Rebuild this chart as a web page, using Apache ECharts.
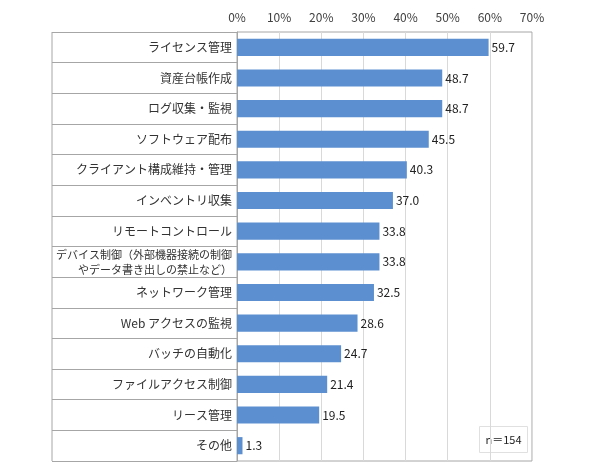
<!DOCTYPE html>
<html>
<head>
<meta charset="utf-8">
<script src="https://cdn.jsdelivr.net/npm/echarts@6/dist/echarts.min.js"></script>
<style>
  html, body { margin: 0; padding: 0; background: #fff; }
  #main { width: 590px; height: 472px; }
</style>
</head>
<body>
<div id="main"></div>
<script>
// 項目（上から順）
const categories = [
  'ライセンス管理',
  '資産台帳作成',
  'ログ収集・監視',
  'ソフトウェア配布',
  'クライアント構成維持・管理',
  'インベントリ収集',
  'リモートコントロール',
  'デバイス制御（外部機器接続の制御\nやデータ書き出しの禁止など）',
  'ネットワーク管理',
  'Web アクセスの監視',
  'バッチの自動化',
  'ファイルアクセス制御',
  'リース管理',
  'その他'
]
// 割合（%）
const values = [59.7, 48.7, 48.7, 45.5, 40.3, 37.0, 33.8, 33.8, 32.5, 28.6, 24.7, 21.4, 19.5, 1.3]
const nLabel = 'n＝154'

const myChart = echarts.init(document.getElementById('main'))
const font = '"Noto Sans CJK JP", "Noto Sans", sans-serif'

myChart.setOption({
  animation: false,
  grid: {
    left: 237,
    right: 58,
    top: 32,
    bottom: 11,
    show: true,
    borderColor: '#a6a6a6',
    borderWidth: 1
  },
  xAxis: {
    type: 'value',
    position: 'top',
    min: 0,
    max: 70,
    interval: 10,
    axisLine: { show: false },
    axisTick: { show: false },
    axisLabel: {
      formatter: '{value}%',
      color: '#404040',
      fontSize: 12,
      fontFamily: font,
      margin: 9
    },
    splitLine: { lineStyle: { color: '#d9d9d9' } }
  },
  yAxis: {
    type: 'category',
    inverse: true,
    data: categories,
    axisLine: { show: true, lineStyle: { color: '#a6a6a6' } },
    axisTick: {
      show: true,
      length: 185,
      lineStyle: { color: '#a6a6a6' }
    },
    axisLabel: {
      color: '#333',
      fontSize: 12,
      fontFamily: font,
      margin: 5,
      lineHeight: 15,
      formatter: function (v) {
        return v.indexOf('\n') >= 0 ? '{s|' + v + '}' : v
      },
      rich: {
        s: { fontSize: 11, fontFamily: font, color: '#333', lineHeight: 15, align: 'right' }
      }
    }
  },
  series: [
    {
      type: 'bar',
      data: values,
      barCategoryGap: '44%',
      itemStyle: { color: '#5b8fd0' },
      label: {
        show: true,
        position: 'right',
        distance: 3,
        color: '#222',
        fontSize: 12,
        fontFamily: font,
        formatter: function (p) { return p.value.toFixed(1) }
      }
    }
  ],
  graphic: [
    {
      type: 'line',
      shape: { x1: 52, y1: 32, x2: 52, y2: 461 },
      style: { stroke: '#a6a6a6', lineWidth: 1 }
    },
    {
      type: 'group',
      left: 479,
      top: 426,
      children: [
        {
          type: 'rect',
          shape: { x: 0, y: 0, width: 48, height: 26 },
          style: { fill: '#fff', stroke: '#e0e0e0', lineWidth: 1 }
        },
        {
          type: 'text',
          x: 24,
          y: 13,
          style: {
            text: nLabel,
            fill: '#222',
            fontSize: 11,
            fontFamily: font,
            align: 'center',
            verticalAlign: 'middle'
          }
        }
      ]
    }
  ]
})
</script>
</body>
</html>
